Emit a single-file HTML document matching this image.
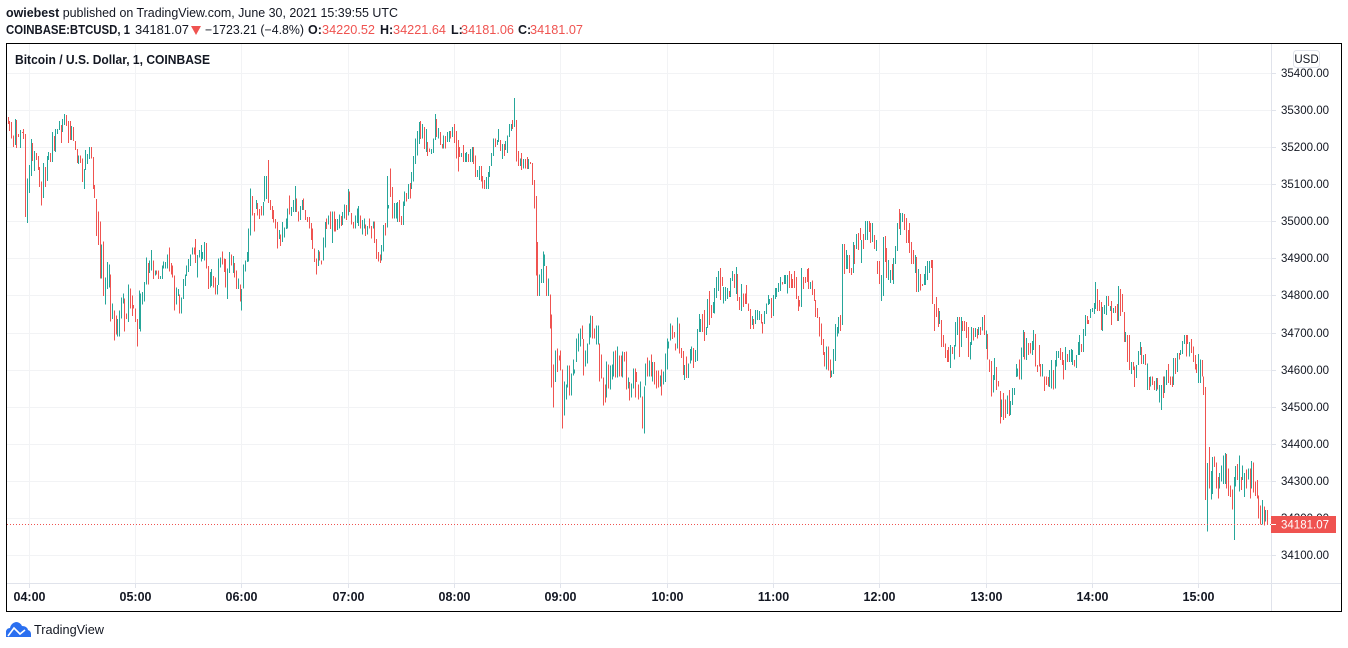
<!DOCTYPE html>
<html lang="en">
<head>
<meta charset="utf-8">
<title>BTCUSD 1 minute chart</title>
<style>
html,body{margin:0;padding:0;background:#fff;width:1348px;height:648px;overflow:hidden}
svg{display:block;font-family:"Liberation Sans",Arial,sans-serif}
</style>
</head>
<body>
<svg id="chart" xmlns="http://www.w3.org/2000/svg" width="1348" height="648" viewBox="0 0 1348 648">
  <text x="6" y="17" font-size="12.5" fill="#131722" textLength="392" lengthAdjust="spacingAndGlyphs"><tspan font-weight="bold">owiebest</tspan> published on TradingView.com, June 30, 2021 15:39:55 UTC</text>
  <text x="6" y="34" font-size="12.5" font-weight="bold" fill="#131722" textLength="124" lengthAdjust="spacingAndGlyphs">COINBASE:BTCUSD, 1</text>
  <text x="135" y="34" font-size="12.5" fill="#131722" textLength="54" lengthAdjust="spacingAndGlyphs">34181.07</text>
  <polygon points="191,26 201,26 196,35" fill="#ef5350"/>
  <text x="205" y="34" font-size="12.5" fill="#131722" textLength="99" lengthAdjust="spacingAndGlyphs">−1723.21 (−4.8%)</text>
  <text x="308" y="34" font-size="12.5" font-weight="bold" fill="#131722">O:</text>
  <text x="322" y="34" font-size="12.5" fill="#ef5350" textLength="53" lengthAdjust="spacingAndGlyphs">34220.52</text>
  <text x="380" y="34" font-size="12.5" font-weight="bold" fill="#131722">H:</text>
  <text x="393" y="34" font-size="12.5" fill="#ef5350" textLength="53" lengthAdjust="spacingAndGlyphs">34221.64</text>
  <text x="451" y="34" font-size="12.5" font-weight="bold" fill="#131722">L:</text>
  <text x="461" y="34" font-size="12.5" fill="#ef5350" textLength="53" lengthAdjust="spacingAndGlyphs">34181.06</text>
  <text x="518" y="34" font-size="12.5" font-weight="bold" fill="#131722">C:</text>
  <text x="530" y="34" font-size="12.5" fill="#ef5350" textLength="53" lengthAdjust="spacingAndGlyphs">34181.07</text>

  <g id="grid"></g>
  <g id="bars" shape-rendering="crispEdges"></g>
  <line id="lastLine" stroke="#ef5350" stroke-width="1" stroke-dasharray="1 2"/>
  <rect x="1272" y="44" width="69" height="567" fill="#fff"/>
  <rect x="7" y="584" width="1334" height="27" fill="#fff"/>
  <line x1="1271.5" y1="44" x2="1271.5" y2="611" stroke="#e0e3eb"/>
  <line x1="7" y1="583.5" x2="1341" y2="583.5" stroke="#e0e3eb"/>
  <g id="yAxis"></g>
  <g id="xAxis"></g>
  <g id="lastTag"></g>

  <text x="15" y="64" font-size="12.5" font-weight="bold" fill="#131722" textLength="195" lengthAdjust="spacingAndGlyphs">Bitcoin / U.S. Dollar, 1, COINBASE</text>
  <rect x="1293.5" y="50.5" width="26" height="17" rx="3" fill="#fff" stroke="#e0e3eb"/>
  <text x="1306.5" y="63" font-size="11.5" fill="#131722" text-anchor="middle">USD</text>
  <rect x="6.5" y="43.5" width="1335" height="568" fill="none" stroke="#000" stroke-width="1"/>

  <g>
    <path d="M6 637 L6 631 Q7 628 10 628 Q11 623 16 622 Q20 622 22 626 Q27 626 28 630 Q31 631 31 634 L31 637 Z" fill="#2a6ff0"/>
    <polyline points="8,636 14,628 20,634 25,630" fill="none" stroke="#fff" stroke-width="1.6"/>
    <text x="34" y="634" font-size="12.5" fill="#131722" textLength="70" lengthAdjust="spacingAndGlyphs">TradingView</text>
  </g>
</svg>
<script>
const timeLabels = ['04:00','05:00','06:00','07:00','08:00','09:00','10:00','11:00','12:00','13:00','14:00','15:00'];
const priceTicks = [34100,34200,34300,34400,34500,34600,34700,34800,34900,35000,35100,35200,35300,35400];
const lastPrice = 34181.07;
const firstBarTime = '03:48';
const highs = [
35281,35270,35268,35232,35276,35273,35235,35246,35241,35249,
35235,35116,35152,35222,35211,35189,35184,35176,35146,35108,
35157,35146,35176,35187,35184,35241,35230,35249,35249,35270,
35260,35276,35289,35287,35270,35270,35257,35254,35216,35195,
35178,35178,35170,35141,35192,35181,35200,35200,35173,35098,
35060,35027,34999,34938,34946,34849,34890,34884,34857,34779,
34760,34746,34736,34760,34795,34806,34792,34752,34830,34819,
34800,34774,34765,34736,34814,34806,34809,34836,34903,34887,
34895,34922,34895,34868,34868,34868,34852,34881,34892,34890,
34911,34930,34887,34881,34854,34822,34817,34803,34795,34844,
34857,34881,34898,34911,34930,34930,34952,34909,34922,34936,
34917,34944,34941,34879,34863,34871,34852,34849,34828,34900,
34903,34919,34900,34898,34873,34917,34911,34906,34887,34868,
34846,34830,34817,34884,34895,34917,34981,35089,35068,35022,
35057,35049,35033,35041,35052,35122,35122,35165,35057,35041,
35030,35006,34998,34976,34965,34998,34984,35008,35035,35070,
35038,35057,35095,35062,35027,35041,35057,35062,35030,35011,
35011,34995,34981,34927,34900,34922,34919,34895,34957,34998,
35008,35016,35027,35027,35027,35006,35006,35019,35014,35025,
35046,35044,35087,35081,35022,34998,35016,35035,35041,35016,
35003,35008,34992,34987,35008,34987,35000,35000,34952,34917,
34911,34936,34990,34995,35122,35044,35143,35092,35049,35049,
35052,35057,35014,35054,35081,35076,35100,35103,35133,35176,
35224,35243,35268,35270,35262,35254,35249,35214,35197,35195,
35224,35289,35276,35251,35241,35208,35232,35230,35241,35243,
35243,35254,35262,35243,35219,35200,35184,35206,35184,35187,
35181,35195,35200,35200,35178,35138,35149,35149,35122,35111,
35119,35133,35149,35184,35224,35224,35219,35249,35219,35208,
35208,35216,35232,35262,35262,35273,35332,35273,35189,35170,
35184,35168,35168,35173,35168,35160,35157,35111,35068,34944,
34857,34871,34919,34911,34879,34846,34803,34749,34614,34652,
34657,34638,34652,34601,34568,34560,34611,34611,34590,34628,
34601,34684,34698,34711,34719,34682,34652,34670,34725,34746,
34744,34711,34719,34719,34671,34641,34579,34560,34622,34614,
34611,34614,34649,34652,34663,34638,34638,34649,34647,34649,
34579,34566,34563,34603,34603,34593,34560,34568,34528,34555,
34617,34633,34625,34641,34620,34620,34598,34598,34584,34601,
34595,34644,34684,34676,34725,34719,34701,34671,34741,34725,
34658,34650,34612,34636,34617,34655,34663,34658,34653,34709,
34750,34736,34750,34761,34715,34790,34812,34774,34782,34820,
34850,34866,34874,34850,34823,34823,34820,34812,34847,34866,
34858,34877,34858,34796,34831,34806,34806,34828,34779,34763,
34744,34736,34761,34761,34758,34750,34728,34758,34779,34801,
34790,34793,34801,34820,34820,34833,34850,34836,34855,34855,
34855,34866,34858,34844,34866,34850,34798,34788,34874,34850,
34850,34871,34874,34836,34841,34817,34788,34766,34742,34725,
34682,34647,34663,34663,34628,34598,34655,34723,34715,34742,
34747,34939,34939,34923,34909,34909,34874,34944,34936,34966,
34968,34982,34950,34966,35001,35001,35001,34995,34995,34963,
34950,34893,34893,34855,34958,34960,34928,34896,34869,34885,
34901,34933,34995,35033,35022,35022,35020,35009,34976,34995,
34944,34923,34909,34904,34871,34858,34831,34858,34879,34893,
34893,34896,34896,34777,34796,34766,34758,34734,34693,34671,
34653,34661,34666,34661,34666,34728,34742,34742,34742,34731,
34731,34728,34715,34674,34715,34712,34712,34709,34715,34715,
34742,34747,34706,34696,34628,34623,34585,34631,34607,34569,
34542,34520,34537,34520,34530,34545,34515,34550,34550,34615,
34603,34628,34660,34707,34701,34685,34672,34672,34677,34707,
34696,34612,34666,34615,34615,34582,34582,34580,34599,34626,
34599,34626,34650,34650,34658,34647,34626,34661,34642,34653,
34655,34653,34626,34640,34674,34693,34669,34709,34747,34744,
34734,34763,34766,34780,34836,34817,34788,34782,34769,34774,
34798,34798,34771,34785,34766,34771,34777,34825,34817,34804,
34755,34701,34693,34693,34620,34620,34608,34612,34650,34674,
34661,34639,34642,34617,34580,34582,34582,34569,34577,34577,
34558,34558,34582,34582,34599,34615,34582,34582,34631,34631,
34645,34645,34653,34677,34693,34693,34693,34674,34682,34663,
34639,34615,34642,34628,34626,34582,34553,34348,34391,34326,
34364,34366,34350,34310,34321,34342,34369,34375,34372,34334,
34288,34277,34310,34340,34345,34369,34310,34342,34321,34331,
34334,34334,34353,34350,34299,34302,34261,34234,34248,34231,
34221,34222];
const lows = [
35263,35244,35223,35201,35206,35198,35228,35198,35239,35222,
35012,34996,35077,35122,35163,35136,35165,35139,35093,35042,
35063,35093,35109,35165,35160,35160,35189,35187,35235,35246,
35211,35241,35260,35257,35211,35219,35219,35216,35192,35157,
35154,35157,35106,35087,35138,35154,35168,35170,35087,35063,
34961,34936,34846,34846,34798,34776,34817,34822,34730,34736,
34679,34695,34690,34690,34738,34779,34703,34736,34728,34765,
34744,34765,34728,34663,34709,34703,34776,34784,34830,34830,
34861,34868,34844,34854,34856,34844,34844,34844,34873,34873,
34873,34865,34857,34849,34760,34776,34798,34752,34752,34790,
34825,34852,34863,34879,34911,34911,34887,34849,34903,34892,
34898,34895,34873,34817,34822,34825,34822,34803,34803,34828,
34876,34884,34863,34822,34790,34860,34881,34860,34849,34817,
34817,34784,34760,34819,34865,34890,34892,34962,35016,34973,
35033,35016,35006,35016,35016,35054,35060,35049,35030,35006,
34997,34981,34927,34952,34933,34944,34957,34979,34981,35019,
35014,35025,35025,35025,35000,35003,35030,35030,35003,34998,
34981,34949,34925,34890,34857,34879,34895,34884,34895,34930,
34979,34992,34979,34941,34973,34973,34976,34981,34987,34990,
35008,35003,35016,35025,34992,34981,34981,34995,34987,34981,
34965,34981,34960,34965,34981,34954,34981,34941,34898,34892,
34887,34895,34919,34962,34984,35035,35065,35008,35008,35008,
34998,34998,34990,34990,35041,35054,35060,35062,35087,35108,
35154,35178,35208,35222,35224,35195,35187,35176,35187,35181,
35184,35219,35227,35224,35206,35197,35197,35197,35214,35214,
35224,35227,35211,35170,35135,35173,35173,35160,35160,35160,
35160,35160,35160,35154,35119,35119,35111,35108,35089,35087,
35087,35087,35119,35149,35176,35200,35206,35214,35189,35168,
35176,35192,35184,35227,35243,35249,35254,35162,35149,35149,
35138,35143,35143,35141,35141,35154,35098,35035,34854,34798,
34798,34833,34833,34879,34798,34798,34711,34552,34498,34566,
34593,34625,34598,34441,34476,34520,34552,34530,34530,34584,
34590,34620,34649,34663,34682,34584,34609,34616,34668,34687,
34684,34684,34668,34668,34568,34576,34503,34512,34525,34549,
34547,34574,34582,34579,34579,34582,34582,34579,34622,34547,
34549,34517,34525,34549,34525,34566,34520,34525,34441,34428,
34557,34582,34582,34582,34568,34560,34549,34552,34555,34530,
34560,34566,34601,34657,34679,34682,34687,34652,34657,34644,
34631,34585,34572,34577,34577,34617,34625,34604,34620,34623,
34701,34701,34701,34677,34693,34712,34720,34739,34753,34752,
34793,34812,34788,34825,34779,34785,34790,34796,34796,34839,
34820,34804,34785,34761,34758,34769,34777,34777,34758,34709,
34720,34709,34723,34734,34734,34725,34698,34723,34750,34774,
34777,34739,34744,34790,34796,34809,34812,34830,34831,34831,
34806,34820,34820,34820,34820,34790,34758,34770,34769,34817,
34833,34836,34817,34817,34801,34785,34742,34739,34690,34666,
34639,34609,34601,34598,34577,34580,34588,34623,34690,34698,
34704,34720,34858,34871,34871,34860,34855,34860,34885,34925,
34923,34950,34887,34925,34950,34950,34971,34941,34944,34925,
34920,34858,34831,34785,34798,34890,34847,34842,34833,34842,
34831,34885,34920,34979,34963,34998,34976,34941,34942,34914,
34885,34885,34860,34809,34809,34814,34825,34828,34828,34842,
34860,34874,34777,34704,34742,34715,34723,34661,34661,34631,
34620,34620,34604,34642,34628,34663,34693,34634,34661,34704,
34704,34685,34634,34628,34666,34679,34688,34684,34693,34693,
34706,34693,34655,34628,34593,34528,34539,34572,34545,34555,
34455,34472,34464,34469,34480,34475,34477,34504,34531,34580,
34581,34574,34574,34634,34628,34626,34639,34644,34639,34653,
34609,34593,34609,34582,34582,34542,34558,34555,34553,34549,
34547,34549,34609,34631,34626,34612,34574,34599,34620,34620,
34620,34612,34609,34605,34639,34639,34647,34647,34691,34723,
34723,34739,34756,34750,34763,34758,34758,34707,34704,34750,
34747,34771,34758,34720,34753,34753,34731,34731,34744,34755,
34674,34674,34620,34599,34588,34599,34553,34577,34612,34639,
34615,34615,34612,34545,34545,34555,34558,34545,34542,34547,
34512,34491,34523,34537,34558,34564,34558,34553,34558,34588,
34593,34628,34639,34642,34669,34636,34669,34636,34645,34620,
34600,34591,34564,34564,34582,34531,34248,34164,34280,34250,
34264,34337,34280,34253,34280,34299,34291,34291,34280,34259,
34256,34223,34140,34285,34302,34272,34275,34302,34256,34280,
34304,34253,34280,34269,34259,34253,34199,34183,34183,34180,
34191,34181];
const directions = [
"rrrrgrrgrr","rgggrgrrrr","grggrgrggg","rggrrrgrrr","grrggggrrr",
"rrrgrgggrg","rrggggrrgr","rrrrgggggr","ggrgrrgggg","grrrrggrgg",
"gggggrrggg","ggrrggrrgg","grrrggrgrr","grggggggrr","grrrgggrrr",
"rrrgrggggr","gggrrggrrr","rrrrrgrrgg","rgrgrrggrg","grgrrrgggr",
"ggrgrrgrrr","rggrggrrgg","grrggrgrgg","gggrgrgrrg","ggrgrrgrgg",
"rgrrrrgrgg","rggrrggrrr","gggggrggrg","rggggrgrrg","rgrrgrrrrr",
"ggggrgrrrg","rrrrgggrgg","ggggrrgggg","rrggrrrrgr","gggrgrrgrr",
"grggrrrgrg","grgrgrrrgr","gggggrrrgr","rrgrgggrgg","ggrrggrrgg",
"ggrrgggrgg","rgrrgrrrrr","grgggrrggg","grgggggrgg","grrrrrrrgr",
"rrrgrrrrrr","rrgrrggggg","rgrggrrgrg","rrgrggrrgr","grrggrrggr",
"gggrggrrrr","rrgrgrrggg","grrrrrgrrr","rrgrgggrgr","rrrggrgrgr",
"grgrrrggrr","rgrrgrgggg","grggrgrrgg","rrrrgrrrgg","rgggrrrgrg",
"ggrgggrggr","rggggrrrgg","grgrgrrgrr","rgrrgrrggg","rgrgrgrrgr",
"ggrggrrrgr","grgggrrgrr","rrggrrrgrg","grrrggggrr","rrggrgrggr",
"grgrrrrrgr","gr"].join('');

const SVG_NS = 'http://www.w3.org/2000/svg';
const UP_COLOR = '#26a69a';
const DOWN_COLOR = '#ef5350';
const GRID_COLOR = '#f2f3f5';
const plotLeft = 7, plotRight = 1271, plotTop = 44, plotBottom = 583;

function priceToY(price) {
  return 73 + (35400 - price) * 0.3708;
}
function barToX(index) {
  return 8.04 + index * 1.7717;
}
function clockToBarIndex(label) {
  const parts = label.split(':');
  const start = firstBarTime.split(':');
  return (Number(parts[0]) * 60 + Number(parts[1])) - (Number(start[0]) * 60 + Number(start[1]));
}
function make(tag, attrs, parent) {
  const el = document.createElementNS(SVG_NS, tag);
  for (const key in attrs) el.setAttribute(key, attrs[key]);
  parent.appendChild(el);
  return el;
}

const gridGroup = document.getElementById('grid');
const barsGroup = document.getElementById('bars');
const yAxisGroup = document.getElementById('yAxis');
const xAxisGroup = document.getElementById('xAxis');
const tagGroup = document.getElementById('lastTag');

priceTicks.forEach(function (price) {
  const y = Math.round(priceToY(price)) + 0.5;
  const gridLine = make('line', {x1: plotLeft, x2: plotRight, y1: y, y2: y, stroke: GRID_COLOR}, gridGroup);
  
  
  const tick = make('line', {x1: 1271, x2: 1276, y1: y, y2: y, stroke: '#e0e3eb'}, yAxisGroup);
  
  
  const label = make('text', {x: 1281, y: y + 3.5, 'font-size': 12, fill: '#131722', textLength: 48, lengthAdjust: 'spacingAndGlyphs'}, yAxisGroup);
  
  
  label.textContent = price.toFixed(2);
});

timeLabels.forEach(function (time) {
  const x = Math.floor(barToX(clockToBarIndex(time))) + 0.5;
  const gridLine = make('line', {x1: x, x2: x, y1: plotTop, y2: plotBottom, stroke: GRID_COLOR}, gridGroup);
  
  
  const tick = make('line', {x1: x, x2: x, y1: 584, y2: 588, stroke: '#e0e3eb'}, xAxisGroup);
  
  
  const label = make('text', {x: x, y: 601, 'font-size': 12.5, 'font-weight': 'bold', fill: '#131722', 'text-anchor': 'middle'}, xAxisGroup);
  
  
  label.textContent = time;
});

highs.forEach(function (high, i) {
  const top = priceToY(high);
  const bottom = priceToY(lows[i]);
  const bar = make('rect', {
    x: Math.floor(barToX(i)),
    y: top,
    width: 1,
    height: Math.max(1, bottom - top),
    fill: directions[i] === 'g' ? UP_COLOR : DOWN_COLOR
  }, barsGroup);
  
  
});

const lastY = Math.floor(priceToY(lastPrice)) + 0.5;
const lastLine = document.getElementById('lastLine');
lastLine.setAttribute('x1', plotLeft);
lastLine.setAttribute('x2', plotRight);
lastLine.setAttribute('y1', lastY);
lastLine.setAttribute('y2', lastY);

const tagBox = make('rect', {x: 1271, y: lastY - 8.5, width: 65, height: 17, fill: DOWN_COLOR}, tagGroup);


const tagTick = make('line', {x1: 1271, x2: 1276, y1: lastY, y2: lastY, stroke: '#fff'}, tagGroup);


const tagText = make('text', {x: 1281, y: lastY + 4, 'font-size': 12, fill: '#fff', textLength: 48, lengthAdjust: 'spacingAndGlyphs'}, tagGroup);


tagText.textContent = lastPrice.toFixed(2);
</script>
</body>
</html>
